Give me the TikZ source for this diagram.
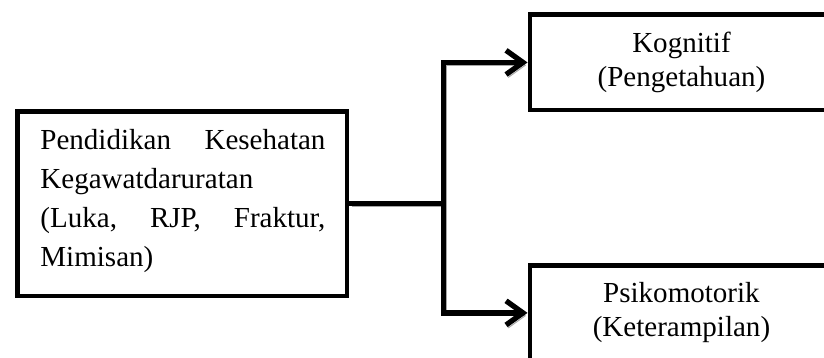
\documentclass[tikz,border=0pt]{standalone}
\usepackage{fontspec}
\setmainfont{Liberation Serif}
\usetikzlibrary{arrows.meta,positioning}

\begin{document}
\begin{tikzpicture}[x=1pt,y=-1pt,>={Straight Barb[length=7pt,width=10pt]},
  kotak/.style={draw,line width=2pt,inner sep=0pt},
  panah/.style={line width=2.2pt,preaction={draw=black!35,transform canvas={xshift=0.9pt,yshift=-1.2pt}}}]
\useasboundingbox (0,0) rectangle (340.5,147.9);
\node[kotak,minimum width=136.2pt,minimum height=76.4pt] (pendidikan) at (75.3,84.1) {};
\node[text width=117.8pt,align=left,inner sep=0pt,anchor=north west,font=\fontsize{12}{16}\selectfont] (isi) at (16.5,53.4)
  {Pendidikan\hfill Kesehatan\\ Kegawatdaruratan\\ (Luka,\hfill RJP,\hfill Fraktur,\\ Mimisan)};
\node[kotak,minimum width=125.2pt,minimum height=39.3pt,align=center,font=\fontsize{12}{14}\selectfont] (kognitif) at (281.6,25.8) {Kognitif\\(Pengetahuan)};
\node[kotak,minimum width=125.2pt,minimum height=39.3pt,align=center,font=\fontsize{12}{14}\selectfont] (psikomotorik) at (281.6,129.3) {Psikomotorik\\(Keterampilan)};
\coordinate (cabang) at ([xshift=39pt]pendidikan.east);
\draw[panah] (pendidikan.east) -- (cabang);
\draw[panah,->] (cabang) |- (kognitif.west);
\draw[panah,->] (cabang) |- (psikomotorik.west);
\end{tikzpicture}
\end{document}
